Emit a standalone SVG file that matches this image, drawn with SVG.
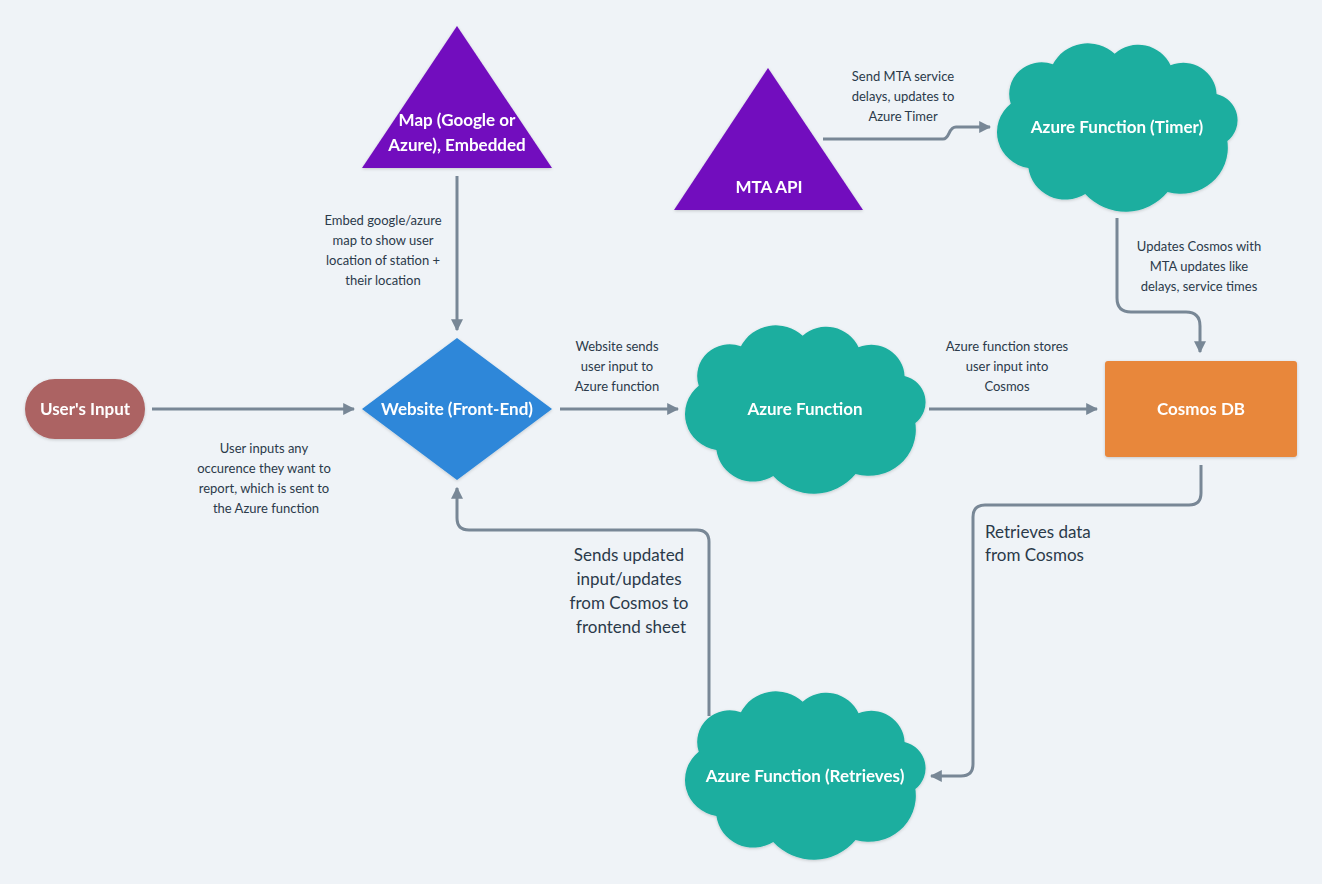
<svg xmlns="http://www.w3.org/2000/svg" width="1322" height="884" viewBox="0 0 1322 884">
<defs>
<style>
.bg{fill:#eff3f7}
.tri{fill:#7211be}
.cloud{fill:#1aae9f}
.nt{font-family:Lato,"Open Sans",sans-serif;font-weight:bold;font-size:17px;fill:#ffffff;text-anchor:middle}
.lb{font-family:Lato,"Open Sans",sans-serif;font-size:13px;fill:#2b3a4a;text-anchor:middle}
.lb2{font-family:Lato,"Open Sans",sans-serif;font-size:17px;fill:#2b3a4a}
.cn{fill:none;stroke:#788796;stroke-width:3;marker-end:url(#ah)}
</style>
<marker id="ah" viewBox="0 0 10 10" refX="9" refY="5" markerWidth="4" markerHeight="4" markerUnits="strokeWidth" orient="auto">
<path d="M0,0 L10,5 L0,10 Z" fill="#788796"/>
</marker>
<filter id="sh" x="-10%" y="-10%" width="120%" height="130%">
<feDropShadow dx="0" dy="1" stdDeviation="1.5" flood-color="#000" flood-opacity="0.18"/>
</filter>
<path id="cloudp" d="M12,58 A33,33 0 0 1 55,17 A40,40 0 0 1 118,6 A36,36 0 0 1 175,18 A34,34 0 0 1 222,48 A28,28 0 0 1 233,97 A48,48 0 0 1 172,150 A55,55 0 0 1 88,152 A38,38 0 0 1 30,125 A38,38 0 0 1 12,58 Z"/>
</defs>
<rect class="bg" x="0" y="0" width="1322" height="884"/>

<g id="connectors">
<path class="cn" d="M457,176 V330"/>
<path class="cn" d="M823,139 H943 C950,139 948,127 956,127 H990"/>
<path class="cn" d="M1117,218 V298 Q1117,312 1131,312 H1186 Q1200,312 1200,326 V352"/>
<path class="cn" d="M152,409 H354"/>
<path class="cn" d="M560,409 H678"/>
<path class="cn" d="M929,409 H1097"/>
<path class="cn" d="M1201,465 V493 Q1201,505 1189,505 H985 Q973,505 973,517 V764 Q973,776 961,776 H931"/>
<path class="cn" d="M709,716 V542 Q709,530 697,530 H469 Q457,530 457,518 V488"/>
<text class="lb"><tspan x="383" y="225">Embed google/azure</tspan><tspan x="383" y="245">map to show user</tspan><tspan x="383" y="265">location of station +</tspan><tspan x="383" y="285">their location</tspan></text>
<text class="lb"><tspan x="903" y="81">Send MTA service</tspan><tspan x="903" y="101">delays, updates to</tspan><tspan x="903" y="121">Azure Timer</tspan></text>
<text class="lb"><tspan x="1199" y="251">Updates Cosmos with</tspan><tspan x="1199" y="271">MTA updates like</tspan><tspan x="1199" y="291">delays, service times</tspan></text>
<text class="lb"><tspan x="264" y="453">User inputs any</tspan><tspan x="264" y="473">occurence they want to</tspan><tspan x="264" y="493">report, which is sent to</tspan><tspan x="266" y="513">the Azure function</tspan></text>
<text class="lb"><tspan x="617" y="351">Website sends</tspan><tspan x="617" y="371">user input to</tspan><tspan x="617" y="391">Azure function</tspan></text>
<text class="lb"><tspan x="1007" y="351">Azure function stores</tspan><tspan x="1007" y="371">user input into</tspan><tspan x="1007" y="391">Cosmos</tspan></text>
<text class="lb2" text-anchor="middle"><tspan x="629" y="561">Sends updated</tspan><tspan x="629" y="585">input/updates</tspan><tspan x="629" y="609">from Cosmos to</tspan><tspan x="631" y="633">frontend sheet</tspan></text>
<text class="lb2"><tspan x="985" y="538">Retrieves data</tspan><tspan x="985" y="561">from Cosmos</tspan></text>
</g>

<g id="map" filter="url(#sh)">
<path class="tri" d="M457,26 L552,168 L362,168 Z"/>
<text class="nt"><tspan x="457" y="126">Map (Google or</tspan><tspan x="457" y="151">Azure), Embedded</tspan></text>
</g>

<g id="mta" filter="url(#sh)">
<path class="tri" d="M768,68 L863,210 L674,210 Z"/>
<text class="nt" x="769" y="193">MTA API</text>
</g>

<g id="timer" filter="url(#sh)">
<use href="#cloudp" class="cloud" transform="translate(999,48) scale(0.98,0.96)"/>
<text class="nt" x="1117" y="133">Azure Function (Timer)</text>
</g>

<g id="user" filter="url(#sh)">
<rect x="25" y="379" width="120" height="60" rx="30" fill="#ac6363"/>
<text class="nt" x="85" y="415">User's Input</text>
</g>

<g id="website" filter="url(#sh)">
<path d="M457,338 L552,409 L457,480 L362,409 Z" fill="#2d87d9"/>
<text class="nt" x="457" y="415">Website (Front-End)</text>
</g>

<g id="azurefn" filter="url(#sh)">
<use href="#cloudp" class="cloud" transform="translate(687,330) scale(0.98,0.96)"/>
<text class="nt" x="805" y="415">Azure Function</text>
</g>

<g id="cosmos" filter="url(#sh)">
<rect x="1105" y="361" width="192" height="96" rx="3" fill="#e8873a"/>
<text class="nt" x="1201" y="415">Cosmos DB</text>
</g>

<g id="retrieves" filter="url(#sh)">
<use href="#cloudp" class="cloud" transform="translate(687,696) scale(0.98,0.96)"/>
<text class="nt" x="805" y="782">Azure Function (Retrieves)</text>
</g>
</svg>
